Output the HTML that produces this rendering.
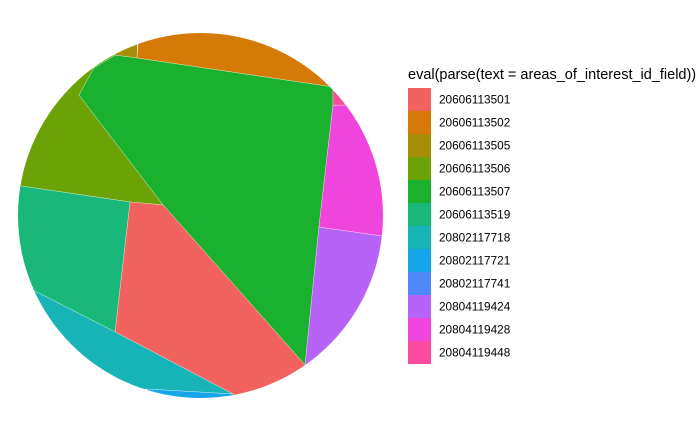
<!DOCTYPE html>
<html><head><meta charset="utf-8"><style>
body{margin:0;background:#fff;font-family:"Liberation Sans",Arial,sans-serif}
</style></head><body>
<svg id="c" width="700" height="432" xmlns="http://www.w3.org/2000/svg">
<defs><clipPath id="clip"><circle cx="200.5" cy="215.5" r="182.5"/></clipPath></defs>
<g id="slices" clip-path="url(#clip)"></g>
<text x="408" y="79" font-size="14.5" fill="#000">eval(parse(text = areas_of_interest_id_field))</text>
<g id="legend"></g>
</svg>
<script>
const categories=["20606113501","20606113502","20606113505","20606113506","20606113507","20606113519","20802117718","20802117721","20802117741","20804119424","20804119428","20804119448"];
const fills=["#F2625F","#D57A07","#A78D06","#6BA206","#1AB12E","#19B77A","#17B4B7","#14A6E9","#4F88F8","#B863F8","#EF45DD","#FB4B9E"];
// slice outlines in unit-circle data coordinates (center 0, radius 1)
const poly501=[[-0.386,-0.074],[-0.205,-0.058],[0.573,0.819],[0.573,1.186],[0.178,1.186],[0.178,0.978],[-0.468,0.638]];
const poly502=[[-0.342,-0.934],[-0.348,-0.863],[0.726,-0.704],[0.792,-0.660],[1.093,-1.181],[-0.337,-1.181]];
const poly505=[[-0.468,-0.879],[-0.348,-0.863],[-0.337,-1.181],[-0.468,-1.181]];
const poly506=[[-1.099,-0.162],[-0.984,-0.162],[-0.386,-0.074],[-0.205,-0.058],[-0.666,-0.660],[-0.584,-0.808],[-0.468,-0.879],[-0.468,-1.181],[-1.099,-1.181]];
const poly507=[[-0.666,-0.660],[-0.584,-0.808],[-0.468,-0.879],[-0.348,-0.863],[0.726,-0.704],[0.726,-0.605],[0.649,0.063],[0.573,0.819],[-0.205,-0.058]];
const poly519=[[-0.984,-0.162],[-0.386,-0.074],[-0.468,0.638],[-0.907,0.414],[-1.099,0.414],[-1.099,-0.162]];
const poly718=[[-1.099,0.414],[-0.907,0.414],[-0.468,0.638],[0.178,0.978],[-0.293,0.951],[-1.099,0.951],[-1.099,1.186]];
const poly721=[[-0.293,0.951],[0.178,0.978],[0.178,1.186],[-0.293,1.186]];
const poly424=[[0.649,0.063],[0.573,0.819],[0.573,1.186],[1.093,1.186],[1.093,0.112],[0.995,0.112]];
const poly428=[[0.726,-0.605],[0.649,0.063],[0.995,0.112],[1.093,0.112],[1.093,-0.605]];
const poly448=[[0.726,-0.704],[0.726,-0.605],[1.093,-0.605],[1.093,-0.960]];
const sliceOrder=[[1,poly502],[3,poly506],[2,poly505],[4,poly507],[5,poly519],[0,poly501],[6,poly718],[7,poly721],[9,poly424],[10,poly428],[11,poly448]];
const cx=200.5,cy=215.5,R=182.5;
const sx=u=>cx+u*R, sy=v=>cy+v*R;
const NS="http://www.w3.org/2000/svg";
const g=document.getElementById('slices');
sliceOrder.forEach(([i,pts])=>{
  const p=document.createElementNS(NS,'polygon');
  p.setAttribute('points',pts.map(q=>sx(q[0])+','+sy(q[1])).join(' '));
  p.setAttribute('fill',fills[i]);
  p.setAttribute('stroke','#fff');p.setAttribute('stroke-width','0.3');
  
  
  g.appendChild(p);
});
const lg=document.getElementById('legend');
categories.forEach((c,i)=>{
  const y=88+i*23;
  const r=document.createElementNS(NS,'rect');
  r.setAttribute('x',408);r.setAttribute('y',y);r.setAttribute('width',23);r.setAttribute('height',23);
  r.setAttribute('fill',fills[i]);
  
  
  lg.appendChild(r);
  const t=document.createElementNS(NS,'text');
  t.setAttribute('x',439);t.setAttribute('y',y+15.5);t.setAttribute('font-size','11.8');
  t.textContent=c;
  
  
  lg.appendChild(t);
});
</script>
</body></html>
